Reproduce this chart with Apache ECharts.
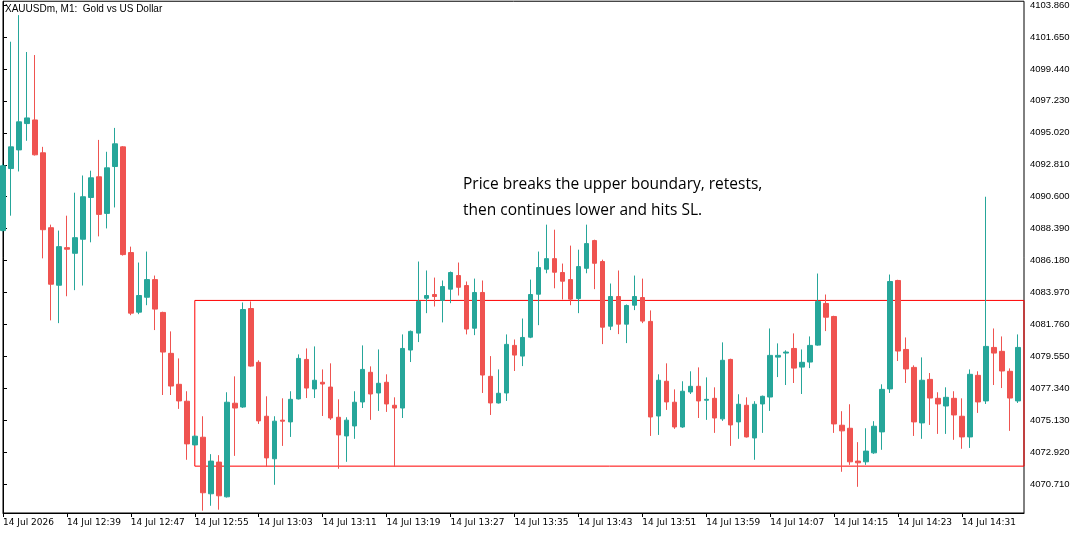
<!DOCTYPE html>
<html>
<head>
<meta charset="utf-8">
<script src="https://cdn.jsdelivr.net/npm/echarts@6/dist/echarts.min.js"></script>
<style>
html,body{margin:0;padding:0;background:#fff;}
#c{width:1082px;height:537px;}
</style>
</head>
<body>
<div id="c"></div>
<script>
// ---- data (XAUUSDm M1, 14 Jul 12:31 .. 14:38) ----
const openP = [4088.26,4092.55,4093.84,4095.66,4095.91,4093.64,4088.46,4084.48,4087.08,4086.69,4087.66,4090.55,4091.98,4089.45,4092.69,4094.05,4086.74,4082.62,4083.65,4084.87,4082.60,4079.77,4077.63,4076.46,4073.44,4073.97,4070.06,4072.25,4069.85,4076.32,4076.06,4082.87,4079.15,4075.42,4072.48,4075.15,4075.03,4076.62,4079.35,4077.31,4077.77,4077.44,4075.35,4074.06,4074.75,4076.41,4078.46,4077.03,4077.77,4076.18,4075.99,4080.00,4081.17,4083.58,4083.84,4083.43,4084.21,4085.15,4084.46,4081.51,4083.98,4078.18,4076.34,4077.03,4080.32,4079.58,4080.89,4083.86,4085.59,4086.32,4085.36,4084.87,4083.56,4085.65,4087.57,4086.12,4081.65,4083.70,4081.79,4083.10,4083.63,4081.98,4075.44,4077.84,4076.39,4074.68,4077.10,4077.49,4076.53,4076.66,4075.24,4079.35,4075.03,4076.18,4073.92,4076.27,4076.75,4079.51,4079.79,4080.11,4078.82,4079.17,4080.34,4083.22,4082.32,4074.80,4074.59,4072.32,4072.27,4072.89,4074.34,4077.31,4084.81,4080.04,4078.80,4074.96,4077.97,4076.66,4076.13,4076.66,4075.42,4073.99,4078.25,4076.48,4080.18,4079.91,4078.53,4076.48];
const closeP = [4092.74,4094.05,4095.78,4096.05,4093.50,4088.32,4084.55,4087.15,4086.97,4087.77,4090.60,4091.91,4089.38,4092.60,4094.26,4086.60,4082.55,4083.77,4084.87,4082.83,4079.86,4077.51,4076.48,4073.51,4074.04,4070.13,4072.32,4069.92,4076.39,4075.99,4082.80,4078.89,4075.10,4072.54,4075.08,4075.08,4076.59,4079.42,4077.37,4077.91,4077.65,4075.30,4074.13,4075.15,4076.39,4078.66,4076.96,4077.70,4076.27,4075.99,4080.11,4081.29,4083.36,4083.77,4083.70,4084.39,4085.36,4084.34,4081.45,4083.98,4078.27,4076.34,4077.01,4080.39,4079.65,4080.87,4083.84,4085.70,4086.32,4085.38,4084.76,4083.52,4085.77,4087.36,4086.00,4081.58,4083.70,4081.79,4083.08,4083.70,4082.00,4075.37,4077.91,4076.41,4074.68,4077.15,4077.49,4076.48,4076.59,4075.30,4079.29,4074.82,4076.25,4073.99,4076.25,4076.80,4079.63,4079.63,4079.86,4078.75,4079.15,4080.32,4083.36,4082.27,4074.89,4074.41,4072.27,4072.20,4073.01,4074.73,4077.28,4084.74,4079.93,4078.69,4075.03,4077.91,4076.68,4076.27,4076.73,4075.51,4073.99,4078.32,4076.41,4080.25,4079.79,4078.55,4076.68,4080.18];
const lowP = [4088.19,4089.29,4092.35,4094.47,4093.45,4086.34,4082.05,4081.86,4083.72,4084.14,4084.46,4087.45,4087.86,4088.41,4089.86,4086.53,4082.41,4082.48,4083.10,4081.38,4076.89,4076.89,4075.93,4072.41,4073.40,4068.89,4069.23,4068.96,4069.80,4072.68,4076.00,4078.85,4074.89,4071.92,4070.68,4073.37,4073.99,4076.58,4076.68,4076.68,4075.44,4075.17,4071.79,4072.27,4073.86,4075.99,4075.17,4075.79,4075.72,4071.92,4075.30,4079.17,4080.55,4082.55,4083.01,4081.91,4083.24,4083.77,4081.08,4081.03,4077.03,4075.51,4076.30,4076.48,4078.55,4078.89,4080.82,4081.72,4085.31,4084.27,4083.49,4083.10,4082.55,4085.31,4084.21,4080.41,4081.38,4081.10,4080.48,4082.76,4081.86,4074.06,4074.13,4075.86,4074.55,4074.62,4076.96,4075.30,4075.17,4074.27,4075.10,4073.37,4073.86,4073.95,4072.41,4074.27,4075.79,4078.13,4077.58,4077.72,4076.96,4078.75,4080.30,4081.31,4074.27,4071.58,4072.06,4070.54,4072.06,4072.82,4073.10,4077.03,4079.24,4077.72,4074.06,4073.86,4074.82,4074.20,4074.20,4073.79,4073.17,4073.23,4075.65,4076.27,4077.58,4077.37,4074.41,4076.34];
const highP = [4092.88,4101.32,4103.16,4100.61,4100.40,4094.05,4088.67,4088.26,4089.29,4090.88,4092.07,4092.40,4094.53,4093.71,4095.36,4094.10,4087.15,4086.05,4086.81,4085.15,4082.65,4081.29,4079.42,4077.15,4074.10,4075.42,4072.80,4072.73,4077.08,4078.18,4083.29,4083.36,4079.29,4076.80,4075.42,4076.66,4077.15,4079.70,4080.11,4080.25,4078.66,4079.08,4076.59,4075.35,4077.15,4080.32,4078.87,4080.04,4078.32,4076.73,4081.08,4081.35,4086.12,4085.50,4085.01,4084.81,4085.43,4086.05,4084.74,4084.94,4084.81,4079.58,4078.66,4081.08,4080.73,4082.18,4084.87,4086.81,4088.67,4088.32,4085.98,4087.22,4086.94,4088.67,4087.63,4086.25,4084.60,4085.50,4083.15,4085.15,4084.94,4082.74,4078.32,4079.08,4077.28,4077.84,4078.53,4078.80,4078.11,4077.42,4080.53,4079.40,4076.94,4076.73,4076.46,4076.85,4081.49,4080.46,4079.98,4081.15,4080.04,4080.94,4085.29,4083.84,4082.37,4075.77,4076.25,4073.63,4074.59,4075.08,4077.63,4085.22,4084.86,4080.87,4078.94,4079.49,4078.41,4077.08,4077.42,4077.15,4076.66,4078.66,4078.53,4090.60,4081.49,4080.94,4078.73,4081.08];

const xTickIdx = [0,8,16,24,32,40,48,56,64,72,80,88,96,104,112,120];
const xTickLabels = ['14 Jul 2026','14 Jul 12:39','14 Jul 12:47','14 Jul 12:55','14 Jul 13:03','14 Jul 13:11','14 Jul 13:19','14 Jul 13:27','14 Jul 13:35','14 Jul 13:43','14 Jul 13:51','14 Jul 13:59','14 Jul 14:07','14 Jul 14:15','14 Jul 14:23','14 Jul 14:31'];
const yTicks = [4070.71,4072.92,4075.13,4077.34,4079.55,4081.76,4083.97,4086.18,4088.39,4090.60,4092.81,4095.02,4097.23,4099.44,4101.65,4103.86];

const boxStartIdx = 24;
const boxTop = 4083.43;
const boxBottom = 4071.97;

const titleText = 'XAUUSDm, M1:  Gold vs US Dollar';
const noteLines = ['Price breaks the upper boundary, retests,', 'then continues lower and hits SL.'];

// ---- build ----
const candles = openP.map((o, i) => [i, o, closeP[i], lowP[i], highP[i]]);
const xMax = 127.75;
const labelMap = {};
xTickIdx.forEach((v, i) => { labelMap[v] = xTickLabels[i]; });

const chart = echarts.init(document.getElementById('c'), null, {renderer: 'canvas'});
chart.setOption({
  animation: false,
  backgroundColor: '#ffffff',
  title: {
    text: titleText, left: 5, top: 4, padding: 0,
    textStyle: {fontFamily: 'Liberation Sans', fontSize: 10, fontWeight: 'normal', color: '#000'}
  },
  grid: {left: 2, top: 0, right: 58, bottom: 24, show: true, borderColor: '#000', borderWidth: 1, backgroundColor: 'transparent'},
  xAxis: {
    type: 'value', min: 0, max: xMax,
    axisLine: {show: true, lineStyle: {color: '#000', width: 1}},
    axisTick: {show: true, customValues: xTickIdx, length: 4, lineStyle: {color: '#000'}},
    axisLabel: {
      customValues: xTickIdx, align: 'left', margin: 5,
      fontFamily: 'DejaVu Sans', fontSize: 9, color: '#000',
      formatter: v => labelMap[Math.round(v)] || ''
    },
    splitLine: {show: false}
  },
  yAxis: {
    type: 'value', position: 'right', min: 4068.73, max: 4104.12, scale: true,
    axisLine: {show: true, lineStyle: {color: '#000', width: 1}},
    axisTick: {show: true, customValues: yTicks, length: 4, lineStyle: {color: '#000'}},
    axisLabel: {
      customValues: yTicks, margin: 6, align: 'left',
      fontFamily: 'Liberation Sans', fontSize: 9.5, color: '#000',
      formatter: v => v.toFixed(3)
    },
    splitLine: {show: false}
  },
  series: [{
    type: 'candlestick',
    data: candles,
    encode: {x: 0, y: [1, 2, 3, 4]},
    barWidth: 5,
    clip: true,
    itemStyle: {
      color: '#26a69a', color0: '#ef5350',
      borderColor: '#26a69a', borderColor0: '#ef5350',
      borderColorDoji: '#26a69a', borderWidth: 1
    },
    markArea: {
      silent: true,
      itemStyle: {color: 'rgba(0,0,0,0)', borderColor: '#ff0000', borderWidth: 1},
      data: [[{xAxis: boxStartIdx, yAxis: boxTop}, {xAxis: xMax, yAxis: boxBottom}]]
    }
  }],
  graphic: [{
    type: 'text', left: 463, top: 172,
    style: {text: noteLines.join('\n'), fontFamily: 'Open Sans', fontSize: 15.5, lineHeight: 26, fill: '#000'}
  }]
});
</script>
</body>
</html>
